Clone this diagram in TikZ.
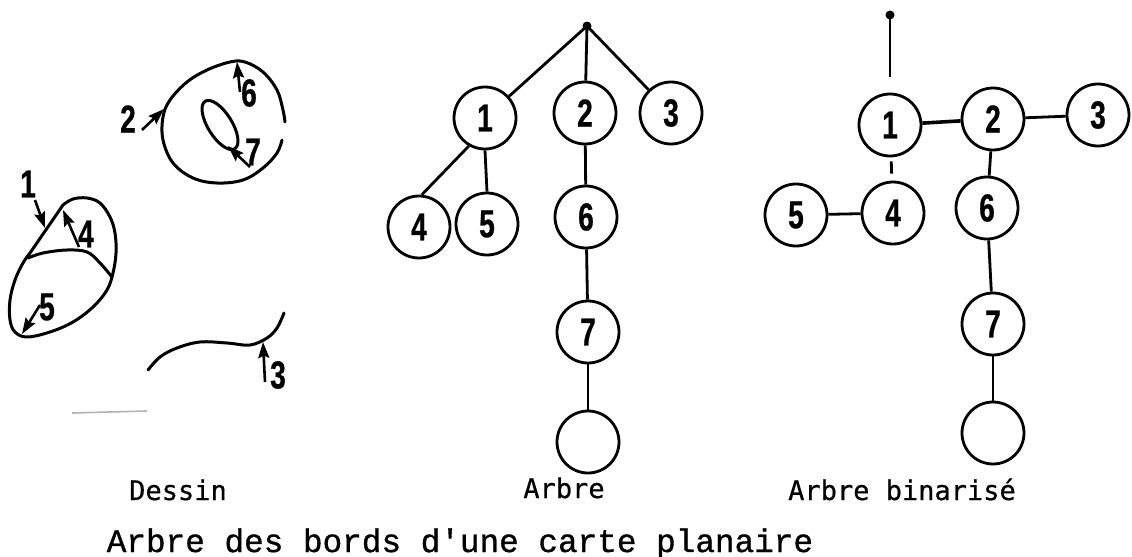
\documentclass[tikz,border=0pt]{standalone}
\usepackage{fontspec}
\usetikzlibrary{arrows.meta}
\newfontfamily\digitfont[FakeStretch=0.72,FakeBold=0.6]{Liberation Sans}
\newfontfamily\capfont[FakeBold=0.6]{DejaVu Sans Mono}
\newfontfamily\titlefont[FakeBold=1]{Liberation Mono}
\begin{document}
\begin{tikzpicture}[x=0.5pt,y=-0.5pt,
  tnode/.style={circle,draw,line width=1.4pt,minimum size=31pt,inner sep=0pt,
    font=\digitfont\bfseries\fontsize{19.5}{20}\selectfont},
  rootdot/.style={circle,fill,inner sep=0pt,minimum size=4.5pt},
  tedge/.style={line width=1.4pt},
  stroke/.style={line width=1.5pt,line cap=round,line join=round},
  pointer/.style={line width=1.3pt,-{Stealth[length=8pt,width=5.5pt,inset=1.2pt]}},
  lab/.style={inner sep=0pt,font=\digitfont\bfseries\fontsize{19.5}{20}\selectfont},
  caption/.style={inner sep=0pt,anchor=base,font=\capfont\fontsize{13.5}{14}\selectfont},
  title/.style={inner sep=0pt,anchor=base,font=\titlefont\fontsize{16.35}{17}\selectfont}]
\path[use as bounding box] (0,0) rectangle (1132,557);

% ---------------- Dessin ----------------
% face 2 outer boundary (open at right)
\draw[stroke] plot[smooth,tension=0.6] coordinates {(282,140) (277,153) (263,168) (243,180) (217,183)
  (193,178) (173,163) (163,140) (163,117) (170,100) (187,82) (207,70) (230,62) (245,62)
  (263,72) (277,90) (283,110) (285,122)};
% face 7 inner ellipse
\draw[stroke] (220,125) ellipse[x radius=28,y radius=12,rotate=-58];
% faces 1,4,5
\draw[stroke] plot[smooth,tension=0.6] coordinates {(63,205) (73,199) (87,198) (100,203) (110,217)
  (115,233) (116,253) (113,273) (107,290) (93,307) (73,322) (50,332) (27,337) (15,332)
  (10,320) (10,300) (15,280) (23,263) (30,253)} -- (63,205);
\draw[stroke] plot[smooth,tension=0.6] coordinates {(28,258) (43,253) (67,250) (87,252) (100,263) (112,277)};
% edge 3
\draw[stroke] plot[smooth,tension=0.6] coordinates {(148,370) (160,357) (177,348) (200,342) (227,343)
  (250,345) (267,338) (277,328) (284,313)};
% scan mark
\draw[gray!60,line width=0.8pt] (72,413) -- (147,411);

% labels and pointers
\node[lab] (l2) at (128,119) {2};
\node[lab] (l6) at (249,93) {6};
\node[lab] (l7) at (253,152) {7};
\node[lab] (l1) at (28,184) {1};
\node[lab] (l4) at (86,234) {4};
\node[lab] (l5) at (47,307) {5};
\node[lab] (l3) at (278,375) {3};
\coordinate (p2a) at (142,130); \coordinate (p2b) at (164,109);
\coordinate (p6a) at (240,92);  \coordinate (p6b) at (237,62);
\coordinate (p7a) at (250,167); \coordinate (p7b) at (228,146);
\coordinate (p1a) at (35,200);  \coordinate (p1b) at (45,228);
\coordinate (p4a) at (79,247);  \coordinate (p4b) at (63,210);
\coordinate (p5a) at (40,305);  \coordinate (p5b) at (22,334);
\coordinate (p3a) at (265,382); \coordinate (p3b) at (263,342);
\draw[pointer] (p2a) -- (p2b);
\draw[pointer] (p6a) -- (p6b);
\draw[pointer] (p7a) -- (p7b);
\draw[pointer] (p1a) -- (p1b);
\draw[pointer] (p4a) -- (p4b);
\draw[pointer] (p5a) -- (p5b);
\draw[pointer] (p3a) -- (p3b);

% ---------------- Arbre ----------------
\node[rootdot] (a0) at (587,26) {};
\node[tnode] (a1) at (485,118) {1};
\node[tnode] (a2) at (585,113) {2};
\node[tnode] (a3) at (671,113) {3};
\node[tnode] (a4) at (419,227) {4};
\node[tnode] (a5) at (487,224) {5};
\node[tnode] (a6) at (586,217) {6};
\node[tnode] (a7) at (588,332) {7};
\node[tnode] (a8) at (588,442) {};
\draw[tedge] (a0.center) -- (a1);
\draw[tedge] (a0.center) -- (a2);
\draw[tedge] (a0.center) -- (a3);
\draw[tedge] (a1.240) -- (a4.85);
\draw[tedge] (a1.south) -- (a5.north);
\draw[tedge] (a2) -- (a6);
\draw[tedge] (a6) -- (a7);
\draw[tedge] (a7) -- (a8);

% ---------------- Arbre binarise ----------------
\node[rootdot] (b0) at (890,15) {};
\node[tnode] (b1) at (890,125) {1};
\node[tnode] (b2) at (993,119) {2};
\node[tnode] (b3) at (1098,115) {3};
\node[tnode] (b5) at (796,215) {5};
\node[tnode] (b4) at (893,213) {4};
\node[tnode] (b6) at (987,208) {6};
\node[tnode] (b7) at (993,324) {7};
\node[tnode] (b8) at (993,433) {};
\draw[tedge,shorten >=8pt] (b0.center) -- (b1);
\draw[tedge,line width=1.8pt] (b1) -- (b2);
\draw[tedge] (b2) -- (b3);
\draw[tedge,shorten <=2pt,shorten >=3.5pt] (b1) -- (b4);
\draw[tedge] (b5) -- (b4);
\draw[tedge] (b2) -- (b6);
\draw[tedge] (b6) -- (b7);
\draw[tedge] (b7) -- (b8);

% ---------------- captions ----------------
\node[caption] (c1) at (178,500) {Dessin};
\node[caption] (c2) at (564,498) {Arbre};
\node[caption] (c3) at (902,500) {Arbre binarisé};
\node[title] (c4) at (460,552) {Arbre des bords d'une carte planaire};
\end{tikzpicture}
\end{document}
